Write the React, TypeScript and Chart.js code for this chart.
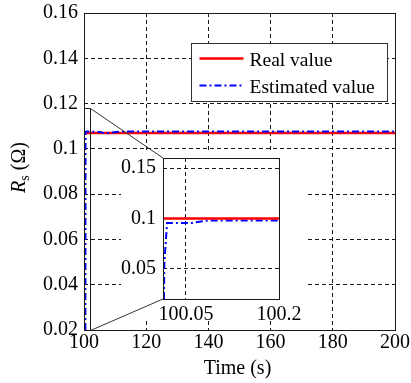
import { useEffect, useRef } from "react";
import { Chart, registerables } from "chart.js";

Chart.register(...registerables);

const SERIF = "'Liberation Serif', 'Times New Roman', Times, serif";
const INK = "#1a1a1a";
const GRID_DASH = [4, 3];
const EST_DASH = [7, 3, 2, 3];
const REAL_COLOR = "#ff0000";
const EST_COLOR = "#0000ff";

// ---- main view: stator resistance over the whole run ----
const mainTimeRange = [100, 200];
const mainRsRange = [0.02, 0.16];
const mainTimeStep = 20;
const mainRsStep = 0.02;

const realTime = [100, 200];
const realRs = [0.107, 0.107];

const estTime = [100.45, 100.5, 100.8, 102, 105, 107, 109, 112, 120, 135, 150, 170, 185, 200];
const estRs = [0.02, 0.1075, 0.1077, 0.1076, 0.1074, 0.1068, 0.1072, 0.1076, 0.1077, 0.1077, 0.1077, 0.1077, 0.1077, 0.1077];

// ---- zoomed view: the first instants after start-up ----
const zoomTimeRange = [100.013, 100.2];
const zoomRsRange = [0.02, 0.16];
const zoomTimeTicks = [100.05, 100.2];
const zoomRsTicks = [0.05, 0.1, 0.15];

const zoomRealTime = [100.013, 100.2];
const zoomRealRs = [0.1, 0.1];

const zoomEstTime = [100.0145, 100.0152, 100.0195, 100.06, 100.085, 100.2];
const zoomEstRs = [0.02, 0.055, 0.0955, 0.0955, 0.098, 0.098];

// part of the main view that the zoomed view enlarges
const markTime = [100, 101.8];
const markRs = [0.02, 0.118];

const legendLabels = ["Real value", "Estimated value"];

const W = 411;
const H = 383;
const INSET = { left: 121, top: 150, width: 186, height: 170 };

const toPoints = (xs: number[], ys: number[]) => xs.map((x, i) => ({ x, y: ys[i] }));
const fmt = (v: number) => String(Number(Number(v).toFixed(4)));

function frame(ctx: CanvasRenderingContext2D, a: any) {
  const l = Math.round(a.left) + 0.5;
  const t = Math.round(a.top) + 0.5;
  const r = Math.round(a.right) + 0.5;
  const b = Math.round(a.bottom) + 0.5;
  ctx.strokeStyle = INK;
  ctx.lineWidth = 1;
  ctx.setLineDash([]);
  ctx.strokeRect(l, t, r - l, b - t);
}

export default function App() {
  const ref = useRef<HTMLCanvasElement | null>(null);

  useEffect(() => {
    if (!ref.current) return;

    // zoomed view is rendered off-screen, then painted into the main view
    const insetCanvas = document.createElement("canvas");
    insetCanvas.width = INSET.width;
    insetCanvas.height = INSET.height;
    insetCanvas.style.width = INSET.width + "px";
    insetCanvas.style.height = INSET.height + "px";

    const insetDecor = {
      id: "insetDecor",
      beforeDraw(chart: any) {
        const { ctx, width, height } = chart;
        ctx.save();
        ctx.fillStyle = "#fff";
        ctx.fillRect(0, 0, width, height);
        ctx.restore();
      },
      afterDraw(chart: any) {
        const { ctx } = chart;
        ctx.save();
        frame(ctx, chart.chartArea);
        ctx.restore();
      },
    };

    const inset = new Chart(insetCanvas, {
      type: "line",
      data: {
        datasets: [
          {
            data: toPoints(zoomEstTime, zoomEstRs),
            borderColor: EST_COLOR,
            borderWidth: 2,
            borderDash: EST_DASH,
            pointRadius: 0,
            order: 1,
          },
          {
            data: toPoints(zoomRealTime, zoomRealRs),
            borderColor: REAL_COLOR,
            borderWidth: 2.5,
            pointRadius: 0,
            order: 0,
          },
        ],
      },
      options: {
        animation: false,
        responsive: false,
        devicePixelRatio: 1,
        events: [],
        layout: { padding: { top: 8, right: 28, left: 0, bottom: 0 } },
        plugins: { legend: { display: false }, tooltip: { enabled: false } },
        scales: {
          x: {
            type: "linear",
            min: zoomTimeRange[0],
            max: zoomTimeRange[1],
            afterBuildTicks: (s: any) => {
              s.ticks = zoomTimeTicks.map((value) => ({ value }));
            },
            afterFit: (s: any) => {
              s.height = 21;
              s.paddingLeft = 0;
              s.paddingRight = 0;
            },
            ticks: {
              callback: (v: any) => fmt(v),
              font: { family: SERIF, size: 20 },
              color: "#000",
              padding: 4,
              maxRotation: 0,
              autoSkip: false,
            },
            grid: { color: INK, lineWidth: 1, drawTicks: false },
            border: { display: false, dash: GRID_DASH },
          },
          y: {
            type: "linear",
            min: zoomRsRange[0],
            max: zoomRsRange[1],
            afterBuildTicks: (s: any) => {
              s.ticks = zoomRsTicks.map((value) => ({ value }));
            },
            afterFit: (s: any) => {
              s.width = 42;
              s.paddingTop = 0;
              s.paddingBottom = 0;
            },
            ticks: {
              callback: (v: any) => fmt(v),
              font: { family: SERIF, size: 20 },
              color: "#000",
              padding: 7,
              autoSkip: false,
            },
            grid: { color: INK, lineWidth: 1, drawTicks: false },
            border: { display: false, dash: GRID_DASH },
          },
        },
      },
      plugins: [insetDecor],
    });

    const mainDecor = {
      id: "mainDecor",
      beforeDraw(chart: any) {
        const { ctx, width, height } = chart;
        ctx.save();
        ctx.fillStyle = "#fff";
        ctx.fillRect(0, 0, width, height);
        ctx.restore();
      },
      afterDraw(chart: any) {
        const { ctx, chartArea: a, scales } = chart;
        const xs = scales.x;
        const ys = scales.y;
        ctx.save();
        frame(ctx, a);

        // marked region
        const mx0 = Math.round(xs.getPixelForValue(markTime[0])) + 0.5;
        const mx1 = Math.round(xs.getPixelForValue(markTime[1])) + 0.5;
        const myB = Math.round(ys.getPixelForValue(markRs[0])) + 0.5;
        const myT = Math.round(ys.getPixelForValue(markRs[1])) + 0.5;
        ctx.strokeStyle = INK;
        ctx.lineWidth = 1;
        ctx.beginPath();
        ctx.moveTo(mx0, myT);
        ctx.lineTo(mx1, myT);
        ctx.lineTo(mx1, myB);
        ctx.stroke();

        // zoomed view and its connectors
        ctx.drawImage(insetCanvas, INSET.left, INSET.top);
        const ia = inset.chartArea;
        ctx.strokeStyle = "#333";
        ctx.lineWidth = 1;
        ctx.beginPath();
        ctx.moveTo(mx1, myT);
        ctx.lineTo(INSET.left + ia.left, INSET.top + ia.top);
        ctx.moveTo(mx1, myB);
        ctx.lineTo(INSET.left + ia.left, INSET.top + ia.bottom);
        ctx.stroke();

        // legend
        const lw = 196;
        const lh = 58;
        const lx = Math.round(a.right - 8 - lw) + 0.5;
        const ly = Math.round(a.top + 30) + 0.5;
        ctx.fillStyle = "#fff";
        ctx.fillRect(lx, ly, lw, lh);
        ctx.strokeStyle = "#333";
        ctx.lineWidth = 1;
        ctx.strokeRect(lx, ly, lw, lh);
        const rows = [ly + 15, ly + 42];
        const styles = [
          { color: REAL_COLOR, width: 2.5, dash: [] as number[] },
          { color: EST_COLOR, width: 2, dash: EST_DASH },
        ];
        ctx.font = `19.5px ${SERIF}`;
        ctx.textAlign = "left";
        ctx.textBaseline = "alphabetic";
        legendLabels.forEach((label, i) => {
          const st = styles[i];
          ctx.strokeStyle = st.color;
          ctx.lineWidth = st.width;
          ctx.setLineDash(st.dash);
          ctx.beginPath();
          ctx.moveTo(lx + 8, rows[i]);
          ctx.lineTo(lx + 52, rows[i]);
          ctx.stroke();
          ctx.setLineDash([]);
          ctx.fillStyle = "#000";
          ctx.fillText(label, lx + 58, rows[i] + 7);
        });

        // x axis title
        ctx.font = `20px ${SERIF}`;
        ctx.textAlign = "center";
        ctx.fillStyle = "#000";
        ctx.fillText("Time (s)", (a.left + a.right) / 2 - 2, 374);

        // y axis title: R_s (Ω)
        const big = `20px ${SERIF}`;
        const bigItalic = `italic 20px ${SERIF}`;
        const small = `14px ${SERIF}`;
        ctx.font = bigItalic;
        const wR = ctx.measureText("R").width;
        ctx.font = small;
        const wS = ctx.measureText("s").width;
        ctx.font = big;
        const wU = ctx.measureText(" (Ω)").width;
        const total = wR + wS + wU;
        ctx.translate(25, (a.top + a.bottom) / 2 - 4);
        ctx.rotate(-Math.PI / 2);
        ctx.textAlign = "left";
        let px = -total / 2;
        ctx.font = bigItalic;
        ctx.fillText("R", px, 0);
        px += wR;
        ctx.font = small;
        ctx.fillText("s", px, 4);
        px += wS;
        ctx.font = big;
        ctx.fillText(" (Ω)", px, 0);
        ctx.restore();
      },
    };

    const chart = new Chart(ref.current, {
      type: "line",
      data: {
        datasets: [
          {
            data: toPoints(estTime, estRs),
            borderColor: EST_COLOR,
            borderWidth: 2,
            borderDash: EST_DASH,
            pointRadius: 0,
            order: 0,
          },
          {
            data: toPoints(realTime, realRs),
            borderColor: REAL_COLOR,
            borderWidth: 2.5,
            pointRadius: 0,
            order: 1,
          },
        ],
      },
      options: {
        animation: false,
        responsive: false,
        devicePixelRatio: 1,
        events: [],
        layout: { padding: { top: 13, right: 16, left: 0, bottom: 0 } },
        plugins: { legend: { display: false }, tooltip: { enabled: false } },
        scales: {
          x: {
            type: "linear",
            min: mainTimeRange[0],
            max: mainTimeRange[1],
            afterFit: (s: any) => {
              s.height = 53;
              s.paddingLeft = 0;
              s.paddingRight = 0;
            },
            ticks: {
              stepSize: mainTimeStep,
              callback: (v: any) => fmt(v),
              font: { family: SERIF, size: 20 },
              color: "#000",
              padding: 1,
              maxRotation: 0,
            },
            grid: { color: INK, lineWidth: 1, drawTicks: false },
            border: { display: false, dash: GRID_DASH },
          },
          y: {
            type: "linear",
            min: mainRsRange[0],
            max: mainRsRange[1],
            afterFit: (s: any) => {
              s.width = 84;
              s.paddingTop = 0;
              s.paddingBottom = 0;
            },
            ticks: {
              stepSize: mainRsStep,
              callback: (v: any) => fmt(v),
              font: { family: SERIF, size: 20 },
              color: "#000",
              padding: 6,
            },
            grid: { color: INK, lineWidth: 1, drawTicks: false },
            border: { display: false, dash: GRID_DASH },
          },
        },
      },
      plugins: [mainDecor],
    });

    return () => {
      chart.destroy();
      inset.destroy();
    };
  }, []);

  return (
    <div style={{ position: "absolute", left: 0, top: 0, width: W, height: H, background: "#fff" }}>
      <canvas ref={ref} width={W} height={H} style={{ display: "block", width: W, height: H }} />
    </div>
  );
}
